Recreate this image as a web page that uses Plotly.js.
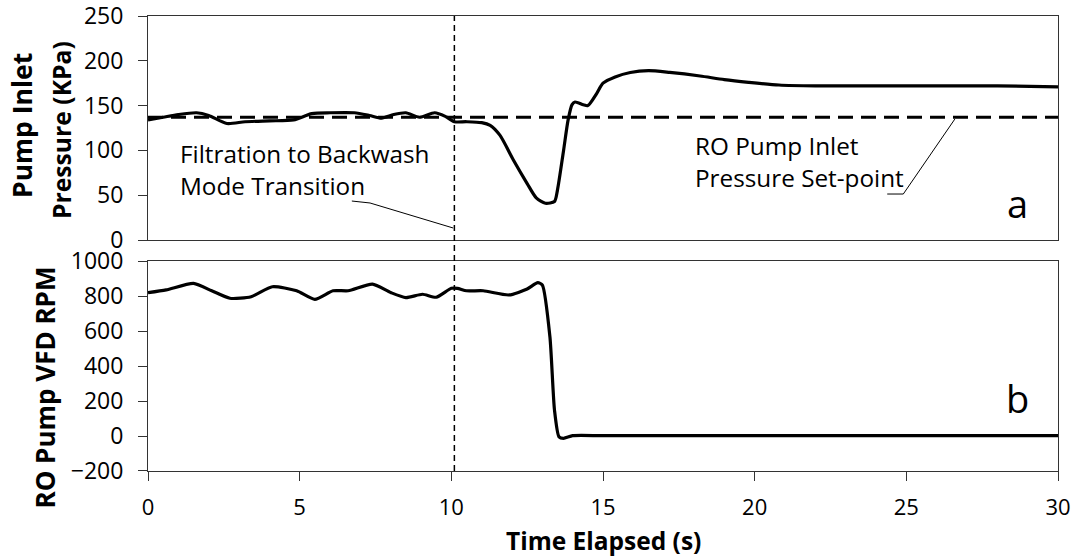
<!DOCTYPE html>
<html>
<head>
<meta charset="utf-8">
<script src="https://cdn.plot.ly/plotly-3.0.1.min.js"></script>
<style>
  html, body { margin: 0; padding: 0; background: #fff; }
  #chart { width: 1077px; height: 558px; }
</style>
</head>
<body>
<div id="chart"></div>
<script>
// Pump inlet pressure (kPa) over the filtration -> backwash transition
const pressureTime = [0, 0.5, 1.0, 1.6, 2.0, 2.6, 3.2, 4.0, 4.8, 5.4, 6.0, 6.8, 7.3, 7.7, 8.1, 8.5, 8.95, 9.45, 9.8, 10.1,
  10.5, 11.0, 11.28, 11.6, 12.05, 12.5, 12.8, 13.1, 13.4, 13.5, 13.7, 13.85, 13.98, 14.08, 14.35, 14.5, 14.8, 15.0,
  15.4, 15.9, 16.5, 17.2, 18.2, 19.0, 19.8, 20.8, 22, 25, 28, 30];
const pressureKPa = [134, 137, 140, 142, 139, 130, 132, 133, 134, 141, 142, 142, 139, 136, 140, 142, 137, 142, 138, 132,
  132, 131, 128, 117, 89, 63, 47, 41, 43, 56, 100, 134, 151, 154, 151, 150, 164, 175,
  182, 187, 189, 187, 183, 179, 176, 173, 172, 172, 172, 171];

// RO pump VFD speed (RPM)
const rpmTime = [0, 0.6, 1.5, 2.1, 2.7, 3.4, 4.1, 4.9, 5.5, 6.1, 6.6, 7.4, 8.0, 8.5, 9.05, 9.5, 10.0, 10.2, 10.5, 11.05,
  11.9, 12.5, 12.85, 13.0, 13.25, 13.4, 13.55, 13.7, 14.0, 15, 20, 25, 30];
const rpmValue = [819, 835, 872, 830, 787, 796, 853, 830, 781, 830, 830, 868, 820, 791, 810, 793, 844, 844, 830, 830,
  806, 840, 876, 863, 567, 149, -5, -13, 2, 2, 2, 2, 2];

// Set-point and the moment of mode transition
const setpointKPa = 137;
const setpointSpan = [0, 30];
const transitionTime = 10.1;

// Tick values
const xTicks = [0, 5, 10, 15, 20, 25, 30];
const pTicks = [0, 50, 100, 150, 200, 250];
const rpmTicks = [-200, 0, 200, 400, 600, 800, 1000];

const FAMILY = 'Open Sans, Calibri, sans-serif';
const tickFont = {family: FAMILY, size: 23, color: '#000'};
const xTickFont = {family: FAMILY, size: 22, color: '#000'};
const noteFont = {family: FAMILY, size: 24.3, color: '#000'};
const boldFont = (size) => ({family: FAMILY, size: size, color: '#000', weight: 'bold'});

const traces = [
  {
    x: setpointSpan, y: [setpointKPa, setpointKPa], xaxis: 'x', yaxis: 'y',
    mode: 'lines', line: {color: '#000', width: 3, dash: '15px,8px'}, hoverinfo: 'skip'
  },
  {
    x: pressureTime, y: pressureKPa, xaxis: 'x', yaxis: 'y',
    mode: 'lines', line: {color: '#000', width: 3.2, shape: 'spline', smoothing: 0.7}
  },
  {
    x: rpmTime, y: rpmValue, xaxis: 'x2', yaxis: 'y2',
    mode: 'lines', line: {color: '#000', width: 3.2, shape: 'spline', smoothing: 0.6}
  }
];

const axisLine = {showline: true, linecolor: '#333', linewidth: 1, mirror: true, showgrid: false, zeroline: false};

const layout = {
  width: 1077, height: 558,
  margin: {l: 148, r: 19, t: 16, b: 87},
  paper_bgcolor: '#fff', plot_bgcolor: '#fff',
  showlegend: false,
  xaxis: Object.assign({}, axisLine, {
    domain: [0, 1], anchor: 'y', range: [0, 30], tickvals: xTicks,
    showticklabels: false, ticks: ''
  }),
  yaxis: Object.assign({}, axisLine, {
    domain: [0.5077, 1], anchor: 'x', range: [0, 250], tickvals: pTicks,
    ticks: 'outside', ticklen: 9, tickcolor: '#333', tickfont: tickFont,
    ticklabelstandoff: 10, ticklabeloverflow: 'allow'
  }),
  xaxis2: Object.assign({}, axisLine, {
    domain: [0, 1], anchor: 'y2', range: [0, 30], tickvals: xTicks,
    ticks: 'outside', ticklen: 9, tickcolor: '#333', tickfont: xTickFont, ticklabelstandoff: 8
  }),
  yaxis2: Object.assign({}, axisLine, {
    domain: [0, 0.4615], anchor: 'x2', range: [-200, 1000], tickvals: rpmTicks,
    ticks: 'outside', ticklen: 9, tickcolor: '#333', tickfont: tickFont,
    ticklabelstandoff: 10, ticklabeloverflow: 'allow'
  }),
  shapes: [
    // transition marker through both panels
    {type: 'line', xref: 'x2', yref: 'paper', x0: transitionTime, x1: transitionTime, y0: 0, y1: 1,
     line: {color: '#000', width: 1.5, dash: '6px,4px'}},
    // leader to the transition line
    {type: 'path', xref: 'x', yref: 'y', path: 'M 6.72 43.5 L 7.32 41.3 L 10.06 13.4',
     line: {color: '#000', width: 1}},
    // leader to the set-point line
    {type: 'path', xref: 'x', yref: 'y', path: 'M 24.37 51.3 L 24.9 51.3 L 26.6 135',
     line: {color: '#000', width: 1}}
  ],
  annotations: [
    // axis titles
    {xref: 'paper', yref: 'paper', x: -0.1385, y: 0.7604, xanchor: 'center', yanchor: 'middle',
     textangle: -90, text: 'Pump Inlet', showarrow: false, font: boldFont(26.5)},
    {xref: 'paper', yref: 'paper', x: -0.0945, y: 0.7495, xanchor: 'center', yanchor: 'middle',
     textangle: -90, text: 'Pressure (KPa)', showarrow: false, font: boldFont(24.7)},
    {xref: 'paper', yref: 'paper', x: -0.1132, y: 0.1835, xanchor: 'center', yanchor: 'middle',
     textangle: -90, text: 'RO Pump VFD RPM', showarrow: false, font: boldFont(26)},
    {xref: 'paper', yref: 'paper', x: 0.5, y: -0.152, xanchor: 'center', yanchor: 'middle',
     text: 'Time Elapsed (s)', showarrow: false, font: boldFont(24.5)},
    // notes inside the pressure panel
    {xref: 'x', yref: 'y', x: 1.0, y: 79, xanchor: 'left', yanchor: 'middle', align: 'left',
     text: 'Filtration to Backwash<br>Mode Transition', showarrow: false, font: noteFont},
    {xref: 'x', yref: 'y', x: 17.97, y: 88, xanchor: 'left', yanchor: 'middle', align: 'left',
     text: 'RO Pump Inlet<br>Pressure Set-point', showarrow: false, font: noteFont},
    // panel letters
    {xref: 'x', yref: 'y', x: 28.65, y: 41, xanchor: 'center', yanchor: 'middle',
     text: 'a', showarrow: false, font: {family: FAMILY, size: 38, color: '#000'}},
    {xref: 'x2', yref: 'y2', x: 28.65, y: 217, xanchor: 'center', yanchor: 'middle',
     text: 'b', showarrow: false, font: {family: FAMILY, size: 38, color: '#000'}}
  ]
};

Plotly.newPlot('chart', traces, layout, {staticPlot: true, displayModeBar: false});
</script>
</body>
</html>
